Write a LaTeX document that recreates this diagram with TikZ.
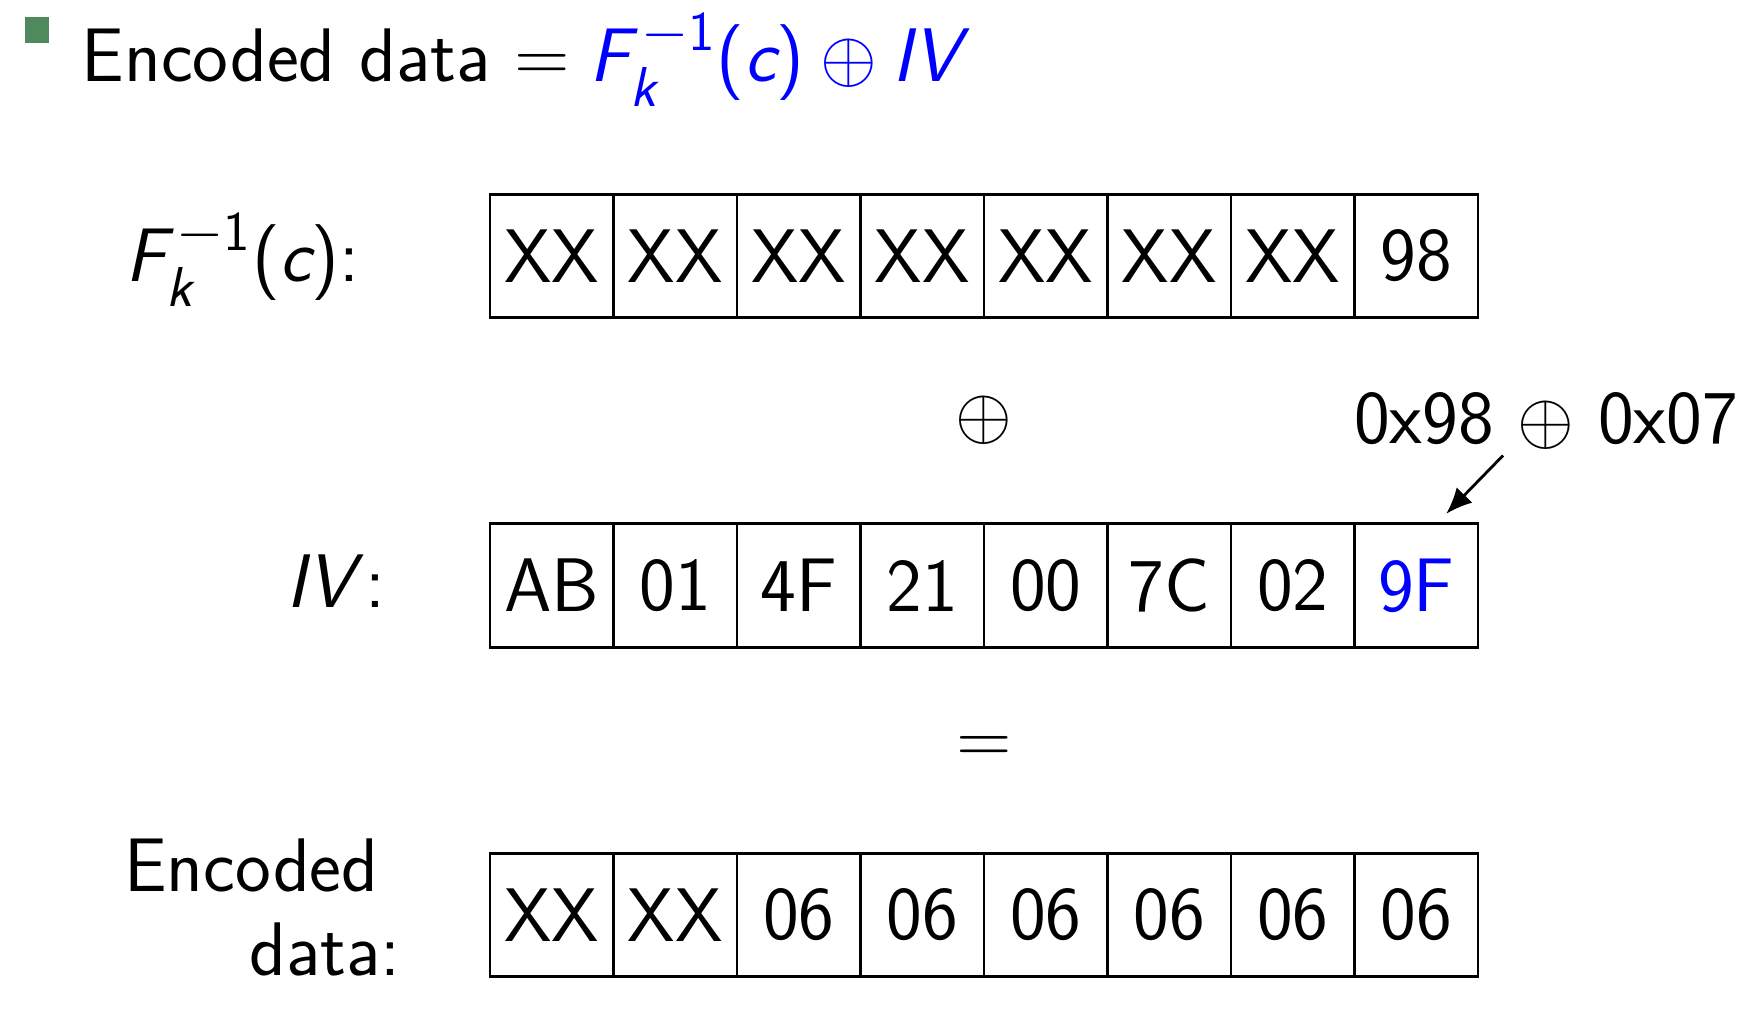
\documentclass[tikz,border=0pt]{standalone}
\usepackage{amsmath}
\usepackage{xcolor}
\usetikzlibrary{arrows.meta,positioning}
\renewcommand{\familydefault}{\sfdefault}
\SetSymbolFont{operators}{normal}{TU}{lmss}{m}{n}
\DeclareMathAlphabet{\mathsl}{TU}{lmss}{m}{sl}
\DeclareMathSizes{21.6}{21.6}{16}{11}
\definecolor{bulletgreen}{RGB}{78,138,94}
\newcommand{\Fkinv}{\mathsl{F}_{\mathsl{k}}^{\kern3pt-1}(\mathsl{c})}
\newcommand{\IVsym}{\mathsl{IV}}

\begin{document}
\begin{tikzpicture}[
font=\fontsize{21.6}{24}\selectfont,
cell/.style={draw,line width=0.75pt,minimum width=1.235cm,minimum height=1.235cm,inner sep=0pt,outer sep=0pt},
lbl/.style={inner sep=0pt},
arr/.style={-{Latex[length=2.6mm,width=2.2mm]},line width=0.8pt}]
\useasboundingbox (0,0) rectangle (17.62,10.18);
% title
\fill[bulletgreen] (0.25,9.75) rectangle (0.49,10.01);
\node[lbl,anchor=base west] (title) at (0.81,9.37) {Encoded data $= {\color{blue}\Fkinv\oplus\IVsym}$};
% first row
\node[cell] (f1) at (5.5175,7.62) {XX};
\foreach \v [count=\i from 2] in {XX,XX,XX,XX,XX,XX,98}{
  \pgfmathtruncatemacro{\p}{\i-1}
  \node[cell,right=0pt of f\p] (f\i) {\v};}
% second row
\node[cell,below=2.06cm of f1] (iv1) {AB};
\foreach \v [count=\i from 2] in {01,4F,21,00,7C,02,{\textcolor{blue}{9F}}}{
  \pgfmathtruncatemacro{\p}{\i-1}
  \node[cell,right=0pt of iv\p] (iv\i) {\v};}
% third row
\node[cell,below=2.06cm of iv1] (enc1) {XX};
\foreach \v [count=\i from 2] in {XX,06,06,06,06,06,06}{
  \pgfmathtruncatemacro{\p}{\i-1}
  \node[cell,right=0pt of enc\p] (enc\i) {\v};}
% row labels
\node[lbl,anchor=base east] (flbl) at (3.60,7.37) {$\Fkinv$:};
\node[lbl,anchor=base east] (ivlbl) at (3.865,4.11) {$\IVsym\,$:};
\node[lbl,anchor=north east,align=right] (enclbl) at (4.01,1.80) {Encoded\hspace*{0.22cm}\\data:};
% operators
\node[below=1.03cm of f4.south east,anchor=center] (xor) {$\oplus$};
\node[below=1.03cm of iv4.south east,anchor=center] (eq) {$=$};
\node[inner sep=1pt,anchor=center] (note) at ([xshift=5.62cm]xor.center) {0x98 $\oplus$ 0x07};
\draw[arr] ([xshift=-4.3mm,yshift=-0.2mm]note.south) -- ([xshift=3mm,yshift=1mm]iv8.north);
\end{tikzpicture}
\end{document}
